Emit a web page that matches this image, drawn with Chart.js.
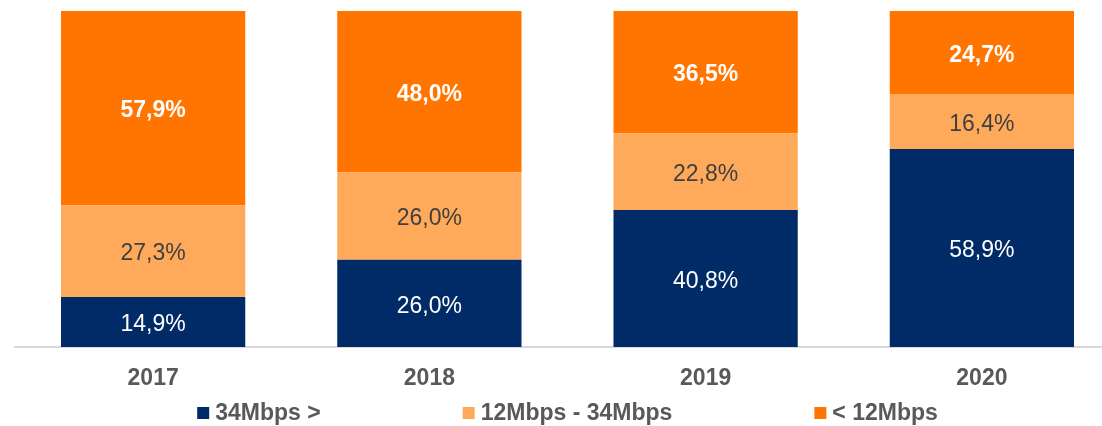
<!DOCTYPE html>
<html>
<head>
<meta charset="utf-8">
<script src="https://cdn.jsdelivr.net/npm/chart.js@4/dist/chart.umd.min.js"></script>
<style>
  html, body { margin: 0; padding: 0; background: #fff; overflow: hidden; }
  canvas { display: block; }
</style>
</head>
<body>
<canvas id="speedChart" width="1120" height="426"></canvas>
<script>
// Data
const years = ['2017', '2018', '2019', '2020'];
const seriesNames = ['34Mbps >', '12Mbps - 34Mbps', '< 12Mbps'];
const fast = [14.9, 26.0, 40.8, 58.9];    // 34Mbps >
const medium = [27.3, 26.0, 22.8, 16.4];  // 12Mbps - 34Mbps
const slow = [57.9, 48.0, 36.5, 24.7];    // < 12Mbps

const colors = ['#002B66', '#FFAA5A', '#FF7500'];
const labelStyles = [
  { color: '#ffffff', weight: 'normal' },
  { color: '#404040', weight: 'normal' },
  { color: '#ffffff', weight: 'bold' }
];

const fontFamily = '"Liberation Sans", Arial, sans-serif';

// Value labels inside each segment
const valueLabels = {
  id: 'valueLabels',
  afterDatasetsDraw(chart) {
    const c = chart.ctx;
    c.save();
    c.textAlign = 'center';
    c.textBaseline = 'middle';
    chart.data.datasets.forEach((ds, i) => {
      const meta = chart.getDatasetMeta(i);
      meta.data.forEach((bar, j) => {
        const st = labelStyles[i];
        c.fillStyle = st.color;
        c.font = st.weight + ' 23px ' + fontFamily;
        const top = Math.max(bar.y, chart.chartArea.top);
        const y = (top + bar.base) / 2 + 3;
        c.fillText(ds.data[j].toFixed(1).replace('.', ',') + '%', bar.x, y);
      });
    });
    c.restore();
  }
};

// Legend drawn at the bottom with wide gaps between items
const bottomLegend = {
  id: 'bottomLegend',
  afterDraw(chart) {
    const c = chart.ctx;
    const box = 12, gapBox = 6, gap = 142;
    c.save();
    c.font = 'bold 23px ' + fontFamily;
    const widths = chart.data.datasets.map(ds => box + gapBox + c.measureText(ds.label).width);
    const total = widths.reduce((a, b) => a + b, 0) + gap * (widths.length - 1);
    const area = chart.chartArea;
    let x = (area.left + area.right) / 2 - total / 2;
    const y = 413;
    c.textBaseline = 'middle';
    c.textAlign = 'left';
    chart.data.datasets.forEach((ds, i) => {
      c.fillStyle = ds.backgroundColor;
      c.fillRect(x, y - 6, box, box);
      c.fillStyle = '#595959';
      c.fillText(ds.label, x + box + gapBox, y + 1);
      x += widths[i] + gap;
    });
    c.restore();
  }
};

const ctx = document.getElementById('speedChart').getContext('2d');
const speedChart = new Chart(ctx, {
  type: 'bar',
  data: {
    labels: years,
    datasets: [
      { label: seriesNames[0], data: fast, backgroundColor: colors[0] },
      { label: seriesNames[1], data: medium, backgroundColor: colors[1] },
      { label: seriesNames[2], data: slow, backgroundColor: colors[2] }
    ]
  },
  options: {
    responsive: false,
    animation: false,
    devicePixelRatio: 1,
    layout: { padding: { top: 11, left: 15, right: 0, bottom: 0 } },
    datasets: {
      bar: { barPercentage: 1, categoryPercentage: 0.667, borderWidth: 0 }
    },
    scales: {
      x: {
        stacked: true,
        grid: { display: false, drawTicks: false },
        border: { display: true, color: '#D9D9D9', width: 2 },
        ticks: {
          color: '#595959',
          padding: 18,
          font: { family: fontFamily, size: 23, weight: 'bold' }
        },
        afterFit(scale) { scale.height = 79; }
      },
      y: {
        stacked: true,
        display: false,
        min: 0,
        max: 100
      }
    },
    plugins: {
      legend: { display: false },
      tooltip: { enabled: false }
    }
  },
  plugins: [valueLabels, bottomLegend]
});
</script>
</body>
</html>
